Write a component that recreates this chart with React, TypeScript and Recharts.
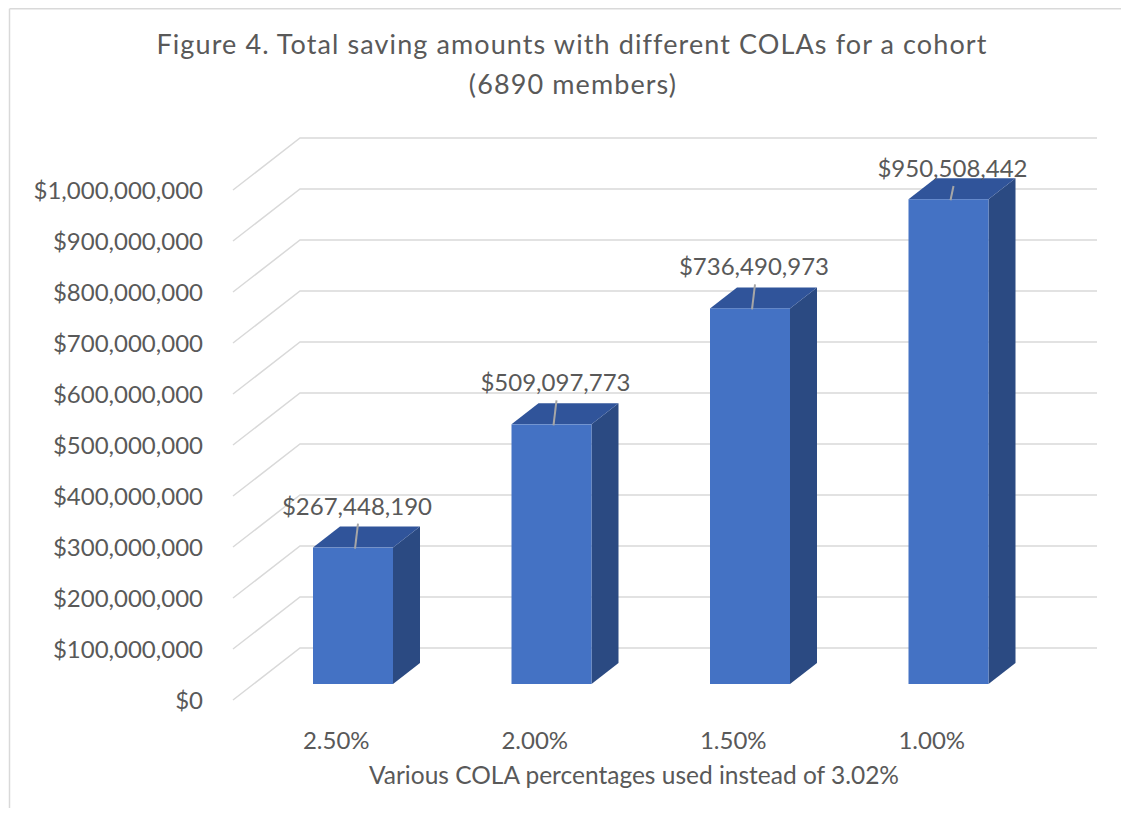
import React from 'react';
import { BarChart, Bar, XAxis, YAxis, CartesianGrid, LabelList } from 'recharts';

const categories = ['2.50%', '2.00%', '1.50%', '1.00%'];
const savings = [267448190, 509097773, 736490973, 950508442];
const yTicks = [0, 100000000, 200000000, 300000000, 400000000, 500000000, 600000000, 700000000, 800000000, 900000000, 1000000000];
const titleLines = ['Figure 4. Total saving amounts with different COLAs for a cohort', '(6890 members)'];
const xAxisTitle = 'Various COLA percentages used instead of 3.02%';

const data = categories.map((c, i) => ({ cola: c, value: savings[i] }));

const FONT = 'Lato, "Open Sans", sans-serif';
const TEXT = '#595959';
const FRONT = '#4472C4';
const SIDE = '#2B4A82';
const TOP = '#30549A';
const GRID = '#D9D9D9';
const DX = 17; // front plane of bars relative to axis plane
const DY = -16;
const DEPTH_X = 27;
const DEPTH_Y = -21;
const PLOT_TOP = 182;

const fmt = (v: number) => '$' + v.toLocaleString('en-US');

const Bar3D = (props: any) => {
  const { x, y, width, height } = props;
  const fx = x + DX;
  const fy = y + DY;
  const w = width;
  const h = height;
  return (
    <g>
      <polygon
        points={`${fx + w},${fy} ${fx + w + DEPTH_X},${fy + DEPTH_Y} ${fx + w + DEPTH_X},${fy + DEPTH_Y + h} ${fx + w},${fy + h}`}
        fill={SIDE}
      />
      <polygon
        points={`${fx},${fy} ${fx + DEPTH_X},${fy + DEPTH_Y} ${fx + w + DEPTH_X},${fy + DEPTH_Y} ${fx + w},${fy}`}
        fill={TOP}
      />
      <rect x={fx} y={fy} width={w} height={h} fill={FRONT} />
    </g>
  );
};

const BarLabel = (props: any) => {
  const { x, y, width, value } = props;
  const fc = x + width / 2 + DX;
  const frontTop = y + DY;
  const cy = Math.max(frontTop - 42, PLOT_TOP - 22);
  return (
    <g>
      <line x1={fc + 5} y1={cy + 18} x2={fc + 2} y2={frontTop + 1} stroke="#A6A6A6" strokeWidth={2} />
      <text x={fc + 4} y={cy + 9} textAnchor="middle" fill={TEXT} fontSize={24} fontFamily={FONT}>
        {fmt(value)}
      </text>
    </g>
  );
};

const GridLine = (props: any) => {
  const { x1, x2, y1 } = props;
  const d = `M${x1 - 4},${y1} L${x1 + 63},${y1 - 52} L${x2 + 66},${y1 - 52}`;
  return <path key={props.key ?? props.index} d={d} stroke={GRID} strokeWidth={1.5} fill="none" />;
};

export default function App() {
  return (
    <div style={{ width: 1113, height: 800 }}>
      <BarChart
        width={1113}
        height={800}
        data={data}
        margin={{ top: PLOT_TOP, right: 90, left: 0, bottom: 8 }}
      >
        <line x1={1.5} y1={0.75} x2={1113} y2={0.75} stroke={GRID} strokeWidth={1.5} />
        <line x1={1.5} y1={0.75} x2={1.5} y2={800} stroke={GRID} strokeWidth={1.5} />
        <text x={564} y={46} textAnchor="middle" fill={TEXT} fontSize={27} letterSpacing={1.1} fontFamily={FONT}>
          {titleLines[0]}
        </text>
        <text x={565} y={86} textAnchor="middle" fill={TEXT} fontSize={27} letterSpacing={1.1} fontFamily={FONT}>
          {titleLines[1]}
        </text>
        <CartesianGrid vertical={false} horizontal={GridLine as any} />
        <XAxis
          dataKey="cola"
          height={100}
          axisLine={false}
          tickLine={false}
          tickMargin={26}
          tick={{ fill: TEXT, fontSize: 24, fontFamily: FONT }}
          label={{ value: xAxisTitle, position: 'insideBottom', offset: 16, fill: TEXT, fontSize: 24.5, fontFamily: FONT }}
        />
        <YAxis
          width={229}
          domain={[0, 1000000000]}
          ticks={yTicks}
          interval={0}
          axisLine={false}
          tickLine={false}
          tickMargin={28}
          tickFormatter={fmt}
          tick={{ fill: TEXT, fontSize: 24, fontFamily: FONT }}
        />
        <Bar dataKey="value" barSize={80} shape={Bar3D} isAnimationActive={false}>
          <LabelList dataKey="value" content={BarLabel} />
        </Bar>
      </BarChart>
    </div>
  );
}
